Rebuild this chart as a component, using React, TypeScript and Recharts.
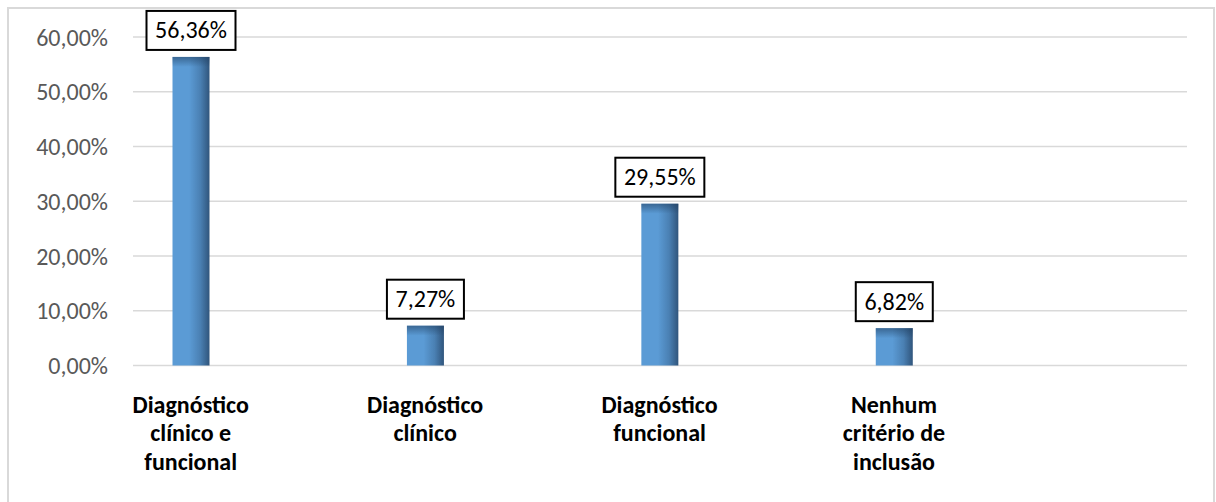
import { BarChart, Bar, XAxis, YAxis, CartesianGrid, LabelList } from 'recharts'

// wrapped lines of each category label
const categoryLines = [
  ['Diagnóstico', 'clínico e', 'funcional'],
  ['Diagnóstico', 'clínico'],
  ['Diagnóstico', 'funcional'],
  ['Nenhum', 'critério de', 'inclusão'],
]
const categories = categoryLines.map((l) => l.join(' '))
const percentages = [56.36, 7.27, 29.55, 6.82]
const yTicks = [0, 10, 20, 30, 40, 50, 60]

const data = categories.map((name, i) => ({ name, value: percentages[i] }))

const FONT = 'Calibri, Carlito, Lato, sans-serif'
const fmt = (v: number) => v.toFixed(2).replace('.', ',') + '%'

function CategoryTick({ x, y, payload, index }: any) {
  const lines = categoryLines[index] ?? [payload.value]
  return (
    <g>
      {lines.map((line: string, i: number) => (
        <text
          key={i}
          x={x}
          y={y + 47 + i * 28.7}
          textAnchor="middle"
          fontFamily={FONT}
          fontSize={24}
          fontWeight="bold"
          fill="#000"
        >
          {line}
        </text>
      ))}
    </g>
  )
}

function BevelBar({ x, y, width, height }: any) {
  if (!height || height <= 0) return null
  return (
    <g>
      <rect x={x} y={y} width={width} height={height} fill="url(#barBody)" />
      <rect x={x} y={y} width={width} height={Math.min(10, height)} fill="url(#barTop)" />
    </g>
  )
}

function ValueBox({ x, y, width, value }: any) {
  const label = fmt(value)
  const w = label.length * 12 + 17
  const h = 39
  const cx = x + width / 2
  const top = y - 7 - h
  return (
    <g>
      <rect x={cx - w / 2} y={top} width={w} height={h} fill="#fff" stroke="#000" strokeWidth={2} />
      <text
        x={cx}
        y={top + h / 2 + 8}
        textAnchor="middle"
        fontFamily={FONT}
        fontSize={24}
        fill="#000"
      >
        {label}
      </text>
    </g>
  )
}

export default function App() {
  return (
    <div
      style={{
        position: 'fixed',
        left: 7,
        top: 7,
        width: 1208,
        height: 500,
        border: '2px solid #d9d9d9',
        boxSizing: 'border-box',
        background: '#fff',
      }}
    >
      <BarChart
        width={1204}
        height={495}
        data={data}
        margin={{ top: 28, right: 26, left: 0, bottom: 0 }}
      >
        <defs>
          <linearGradient id="barBody" x1="0" y1="0" x2="1" y2="0">
            <stop offset="0%" stopColor="#5b9bd5" />
            <stop offset="45%" stopColor="#5b9bd5" />
            <stop offset="75%" stopColor="#4a80b3" />
            <stop offset="100%" stopColor="#30557c" />
          </linearGradient>
          <linearGradient id="barTop" x1="0" y1="0" x2="0" y2="1">
            <stop offset="0%" stopColor="#1f3d5e" stopOpacity={0.55} />
            <stop offset="100%" stopColor="#1f3d5e" stopOpacity={0} />
          </linearGradient>
        </defs>
        <CartesianGrid vertical={false} stroke="#d9d9d9" strokeWidth={1.5} />
        <XAxis
          dataKey="name"
          axisLine={false}
          tickLine={false}
          tickSize={0}
          tickMargin={0}
          height={138.5}
          interval={0}
          padding={{ left: -59.5, right: 175.8 }}
          tick={<CategoryTick />}
        />
        <YAxis
          domain={[0, 60]}
          ticks={yTicks}
          tickFormatter={fmt}
          axisLine={false}
          tickLine={false}
          tickSize={0}
          tickMargin={25}
          width={124}
          tick={{ fontFamily: FONT, fontSize: 24, fill: '#595959' }}
        />
        <Bar dataKey="value" barSize={37} shape={<BevelBar />} isAnimationActive={false}>
          <LabelList dataKey="value" content={<ValueBox />} />
        </Bar>
      </BarChart>
    </div>
  )
}
